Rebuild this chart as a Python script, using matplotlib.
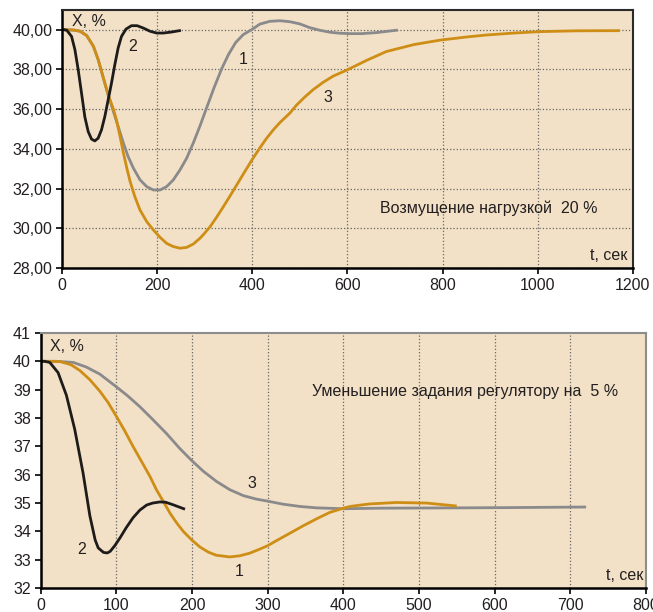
import matplotlib.pyplot as plt
from matplotlib.ticker import FuncFormatter

plt.rcParams['font.family'] = ['Liberation Sans', 'DejaVu Sans']

# верхний график: возмущение нагрузкой 20 %
t1_top = [0, 24, 38, 52, 66, 76, 87, 97, 108, 118, 129, 139, 150, 164, 178, 192, 206, 220, 234,
          248, 262, 276, 290, 303, 320, 336, 350, 365, 381, 400, 416, 437, 458, 479, 500, 521,
          542, 563, 584, 605, 630, 660, 703]
x1_top = [40.0, 39.98, 39.92, 39.7, 39.16, 38.49, 37.56, 36.72, 35.88, 35.13, 34.29, 33.61, 33.03,
          32.44, 32.1, 31.93, 31.93, 32.1, 32.44, 32.94, 33.53, 34.3, 35.15, 36.0, 37.1, 38.05,
          38.75, 39.35, 39.75, 40.02, 40.28, 40.42, 40.45, 40.4, 40.29, 40.1, 39.97, 39.87, 39.82,
          39.8, 39.8, 39.85, 39.97]

t2_top = [0, 4, 10, 20, 27, 34, 41, 48, 55, 62, 69, 76, 83, 90, 97, 104, 111, 118, 125, 134.5,
          146, 158, 171, 185, 199, 213, 230, 247]
x2_top = [40.0, 40.0, 39.97, 39.66, 39.0, 37.98, 36.8, 35.6, 34.87, 34.49, 34.4, 34.54, 34.96,
          35.63, 36.47, 37.31, 38.24, 39.08, 39.66, 40.03, 40.2, 40.2, 40.08, 39.92, 39.83, 39.83,
          39.88, 39.95]

t3_top = [0, 24, 38, 52, 66, 76, 87, 97, 108, 115, 122, 129, 136, 143, 153, 164, 178, 192, 206,
          220, 234, 248, 262, 276, 290, 297, 311, 325, 339, 353, 364, 374, 388, 400, 416, 430, 444,
          458, 479, 493, 510, 528, 549, 570, 600, 640, 682, 740, 794, 850, 892, 950, 1004, 1080,
          1170]
x3_top = [40.0, 39.98, 39.92, 39.7, 39.16, 38.49, 37.56, 36.72, 36.0, 35.4, 34.62, 33.8, 33.05,
          32.37, 31.6, 30.92, 30.34, 29.92, 29.55, 29.24, 29.08, 29.0, 29.04, 29.21, 29.5, 29.68,
          30.07, 30.56, 31.08, 31.62, 32.05, 32.45, 33.0, 33.47, 34.05, 34.53, 34.95, 35.32, 35.8,
          36.2, 36.6, 36.98, 37.35, 37.66, 37.98, 38.45, 38.9, 39.25, 39.47, 39.63, 39.73, 39.83,
          39.9, 39.94, 39.95]

# нижний график: уменьшение задания регулятору на 5 %
t1_bot = [0, 25.6, 40, 52, 65, 78, 89, 100, 111, 122, 133, 144.4, 153, 162, 171, 180, 188.5,
          199.6, 210.5, 221.6, 232, 250, 263, 276, 289, 299.5, 312, 329.6, 347, 365, 382, 400,
          409, 420, 435, 470, 510, 548]
x1_bot = [40.0, 39.99, 39.88, 39.67, 39.35, 38.95, 38.55, 38.06, 37.55, 37.0, 36.48, 35.94, 35.47,
          35.06, 34.64, 34.29, 34.0, 33.7, 33.45, 33.27, 33.16, 33.1, 33.14, 33.23, 33.37, 33.49,
          33.68, 33.94, 34.2, 34.45, 34.67, 34.82, 34.88, 34.92, 34.97, 35.02, 35.0, 34.9]

t2_bot = [0, 5, 12, 23, 34, 45, 56, 65, 72, 76, 83, 88, 92, 98, 105, 113, 122, 131, 140, 148,
          157.7, 165, 175, 189]
x2_bot = [40.0, 40.0, 39.96, 39.6, 38.8, 37.6, 36.06, 34.55, 33.7, 33.42, 33.26, 33.24, 33.3,
          33.5, 33.78, 34.13, 34.48, 34.75, 34.93, 35.0, 35.04, 35.03, 34.94, 34.8]

t3_bot = [0, 20, 43, 60, 78, 100, 115, 131, 148, 166, 184, 199.6, 215, 232.5, 250, 268, 285,
          299.5, 320.5, 342.7, 365, 400, 450, 547, 620, 719]
x3_bot = [40.0, 40.0, 39.96, 39.8, 39.55, 39.1, 38.78, 38.4, 37.95, 37.46, 36.92, 36.5, 36.12,
          35.76, 35.47, 35.26, 35.14, 35.07, 34.96, 34.88, 34.83, 34.8, 34.82, 34.83, 34.84, 34.86]

bg = '#F2E1C6'
c_gray = '#8A8A8C'
c_orange = '#CE8E15'
c_black = '#1E1B1B'
c_text = '#231F20'
fs = 11.5

fig = plt.figure(figsize=(6.53, 6.12), dpi=100)

ax1 = fig.add_axes([0.095, 0.562, 0.874, 0.422])
ax1.set_facecolor(bg)
ax1.plot(t1_top, x1_top, color=c_gray, lw=2)
ax1.plot(t3_top, x3_top, color=c_orange, lw=2)
ax1.plot(t2_top, x2_top, color=c_black, lw=2)
ax1.set_xlim(0, 1200)
ax1.set_ylim(28, 41)
ax1.set_xticks(range(0, 1201, 200))
ax1.set_yticks(range(28, 41, 2))
ax1.yaxis.set_major_formatter(FuncFormatter(lambda v, p: ('%.2f' % v).replace('.', ',')))
ax1.grid(True, linestyle=':', color='#666666', lw=0.9)
ax1.text(149, 39.14, '2', fontsize=fs, color=c_text, ha='center', va='center')
ax1.text(381, 38.5, '1', fontsize=fs, color=c_text, ha='center', va='center')
ax1.text(558, 36.6, '3', fontsize=fs, color=c_text, ha='center', va='center')
ax1.text(0.018, 0.985, 'X, %', transform=ax1.transAxes, fontsize=fs, color=c_text, va='top')
ax1.text(897, 31.0, 'Возмущение нагрузкой  20 %', fontsize=fs, color=c_text,
         ha='center', va='center')
ax1.text(0.99, 0.02, 't, сек', transform=ax1.transAxes, fontsize=fs, color=c_text,
         ha='right', va='bottom')

ax2 = fig.add_axes([0.0623, 0.039, 0.927, 0.417])
ax2.set_facecolor(bg)
ax2.plot(t3_bot, x3_bot, color=c_gray, lw=2)
ax2.plot(t1_bot, x1_bot, color=c_orange, lw=2)
ax2.plot(t2_bot, x2_bot, color=c_black, lw=2)
ax2.set_xlim(0, 800)
ax2.set_ylim(32, 41)
ax2.set_xticks(range(0, 801, 100))
ax2.set_yticks(range(32, 42))
ax2.grid(True, axis='x', linestyle=':', color='#666666', lw=0.9)
ax2.text(279.6, 35.7, '3', fontsize=fs, color=c_text, ha='center', va='center')
ax2.text(54, 33.35, '2', fontsize=fs, color=c_text, ha='center', va='center')
ax2.text(262.5, 32.59, '1', fontsize=fs, color=c_text, ha='center', va='center')
ax2.text(0.016, 0.975, 'X, %', transform=ax2.transAxes, fontsize=fs, color=c_text, va='top')
ax2.text(561, 38.94, 'Уменьшение задания регулятору на  5 %', fontsize=fs, color=c_text,
         ha='center', va='center')
ax2.text(0.995, 0.02, 't, сек', transform=ax2.transAxes, fontsize=fs, color=c_text,
         ha='right', va='bottom')

for ax in (ax1, ax2):
    ax.set_axisbelow(True)
    ax.tick_params(direction='out', length=4, width=1.2, labelsize=fs, pad=3,
                   labelcolor=c_text)
    ax.spines['left'].set_linewidth(1.8)
    ax.spines['bottom'].set_linewidth(1.8)

for s in ('top', 'right'):
    ax1.spines[s].set_color('#2a2a2a')
    ax1.spines[s].set_linewidth(1.5)
    ax2.spines[s].set_color('#8c8c8c')
    ax2.spines[s].set_linewidth(1.5)

fig.savefig('out.png', dpi=100)
